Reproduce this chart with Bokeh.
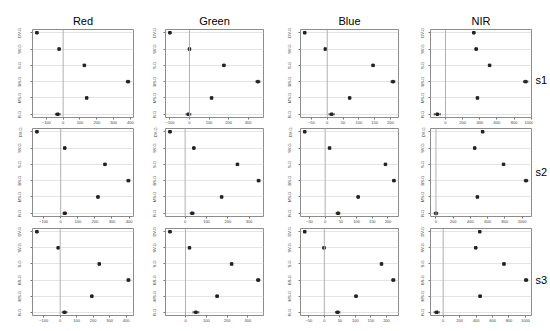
from bokeh.plotting import figure
from bokeh.layouts import column, row
from bokeh.models import Range1d, FixedTicker, Whisker, ColumnDataSource, Span, TeeHead
from bokeh.core.properties import value
from bokeh.embed import file_html
from bokeh.resources import INLINE

categories = ["DV-G", "SV-G", "S-G", "BS-G", "MS-G", "R-G"]
cat_pos = [6, 5, 4, 3, 2, 1]
bands = ["Red", "Green", "Blue", "NIR"]
sites = ["s1", "s2", "s3"]

# means in category order DV-G, SV-G, S-G, BS-G, MS-G, R-G
red_s1 = [-156, -24, 126, 386, 140, -32]
green_s1 = [-100, 0, 176, 350, 113, -5]
blue_s1 = [-71, -6, 145, 208, 71, 14]
nir_s1 = [331, 358, 515, 935, 373, -96]
red_s2 = [-139, 24, 259, 396, 218, 24]
green_s2 = [-71, 41, 245, 344, 171, 33]
blue_s2 = [-65, 14, 192, 219, 105, 41]
nir_s2 = [542, 450, 785, 1046, 481, 0]
red_s3 = [-141, -12, 237, 414, 192, 27]
green_s3 = [-75, 19, 222, 350, 152, 50]
blue_s3 = [-63, -1, 184, 222, 102, 43]
nir_s3 = [445, 396, 739, 1008, 449, -78]

# error half-widths
red_s1_err = [4, 3, 4, 10, 4, 14]
green_s1_err = [4, 3, 4, 10, 4, 12]
blue_s1_err = [2, 2, 2, 6, 2, 8]
nir_s1_err = [10, 10, 10, 25, 10, 35]
red_s2_err = [4, 3, 4, 8, 4, 10]
green_s2_err = [4, 3, 4, 6, 4, 9]
blue_s2_err = [2, 2, 2, 3, 2, 6]
nir_s2_err = [10, 10, 10, 20, 10, 20]
red_s3_err = [4, 3, 4, 8, 4, 14]
green_s3_err = [4, 3, 4, 8, 4, 14]
blue_s3_err = [2, 2, 2, 5, 2, 7]
nir_s3_err = [10, 10, 10, 20, 10, 30]

red_ticks = [-100, 0, 100, 200, 300, 400]
green_ticks = [-100, 0, 100, 200, 300]
blue_ticks = [-50, 0, 50, 100, 150, 200]
nir_ticks = [0, 200, 400, 600, 800, 1000]

means = [[red_s1, green_s1, blue_s1, nir_s1],
         [red_s2, green_s2, blue_s2, nir_s2],
         [red_s3, green_s3, blue_s3, nir_s3]]
errs = [[red_s1_err, green_s1_err, blue_s1_err, nir_s1_err],
        [red_s2_err, green_s2_err, blue_s2_err, nir_s2_err],
        [red_s3_err, green_s3_err, blue_s3_err, nir_s3_err]]
ticks = [red_ticks, green_ticks, blue_ticks, nir_ticks]

# layout geometry
col_left = [32, 16, 19, 16]
col_fw = [101, 98, 98, 101]
col_right = [16, 18, 16, 2]
side_w = 16
row_top = [29, 1, 2]
row_fh = [88, 88, 87]
row_bottom = [10, 10, 10]
ylab_standoff = [8, 6, 6, 3]
site_label_y = [3.1, 3.55, 3.0]

FONT = "Liberation Sans"


def blank(w, h, xr, yr, top=0, bottom=0):
    q = figure(output_backend="svg", toolbar_location=None,
               frame_width=w, frame_height=h,
               min_border_left=0, min_border_right=0,
               min_border_top=top, min_border_bottom=bottom,
               x_range=xr, y_range=yr,
               x_axis_location=None, y_axis_location=None)
    q.outline_line_color = None
    q.grid.grid_line_color = None
    q.background_fill_color = "white"
    q.border_fill_color = "white"
    return q


rows = []
for r in range(3):
    figs = []
    for c in range(4):
        m = means[r][c]
        e = errs[r][c]
        lo = [a - b for a, b in zip(m, e)]
        hi = [a + b for a, b in zip(m, e)]
        xmin, xmax = min(lo), max(hi)
        pad = 0.04 * (xmax - xmin)
        x0, x1 = xmin - pad, xmax + pad
        y0, y1 = 0.8, 6.2
        p = figure(output_backend="svg", toolbar_location=None,
                   frame_width=col_fw[c], frame_height=row_fh[r],
                   min_border_left=col_left[c], min_border_right=col_right[c],
                   min_border_top=row_top[r], min_border_bottom=row_bottom[r],
                   x_range=Range1d(x0, x1), y_range=Range1d(y0, y1),
                   title=bands[c] if r == 0 else None)
        if r == 0:
            p.title.text_font = FONT
            p.title.text_font_size = "11px"
            p.title.text_font_style = "normal"
            p.title.text_color = "black"
            p.title.align = "center"
            p.title.standoff = 6
        p.background_fill_color = "white"
        p.border_fill_color = "white"
        p.outline_line_color = "#8c8c8c"
        p.outline_line_width = 1
        p.xaxis.ticker = FixedTicker(ticks=ticks[c])
        p.yaxis.ticker = FixedTicker(ticks=cat_pos)
        p.yaxis.major_label_overrides = {pos: cat for pos, cat in zip(cat_pos, categories)}
        p.yaxis.major_label_orientation = "vertical"
        for ax in (p.xaxis[0], p.yaxis[0]):
            ax.axis_line_color = None
            ax.minor_tick_line_color = None
            ax.major_tick_out = 2
            ax.major_tick_in = 0
            ax.major_tick_line_color = "#777777"
            ax.major_label_text_font = FONT
            ax.major_label_text_font_size = "4px"
            ax.major_label_text_color = "#444444"
        p.xaxis.major_label_standoff = 1
        p.yaxis.major_label_standoff = ylab_standoff[c]
        p.xgrid.grid_line_color = None
        p.ygrid.grid_line_color = "#e4e4e4"
        p.ygrid.grid_line_width = 1

        p.add_layout(Span(location=0, dimension="height", line_color="#b0b0b0", line_width=1))

        src = ColumnDataSource(dict(x=m, y=cat_pos, lo=lo, hi=hi))
        w = Whisker(source=src, base="y", lower="lo", upper="hi", dimension="width",
                    line_color="#222222", line_width=0.7,
                    upper_head=TeeHead(size=2.5, line_color="#222222", line_width=0.7),
                    lower_head=TeeHead(size=2.5, line_color="#222222", line_width=0.7))
        p.add_layout(w)
        p.scatter("x", "y", source=src, marker="square", size=2.5,
                  fill_color="#222222", line_color="#222222")
        figs.append(p)

    # side label
    s = blank(side_w, row_fh[r], Range1d(0, side_w), Range1d(0.8, 6.2),
              top=row_top[r], bottom=row_bottom[r])
    s.text(x=[2], y=[site_label_y[r]], text=[sites[r]],
           text_font=value(FONT), text_font_size="11px",
           text_align="left", text_baseline="middle", text_color="black")
    figs.append(s)
    rows.append(row(*figs))

layout = column(*rows)
open("out.html", "w").write(file_html(layout, INLINE))
